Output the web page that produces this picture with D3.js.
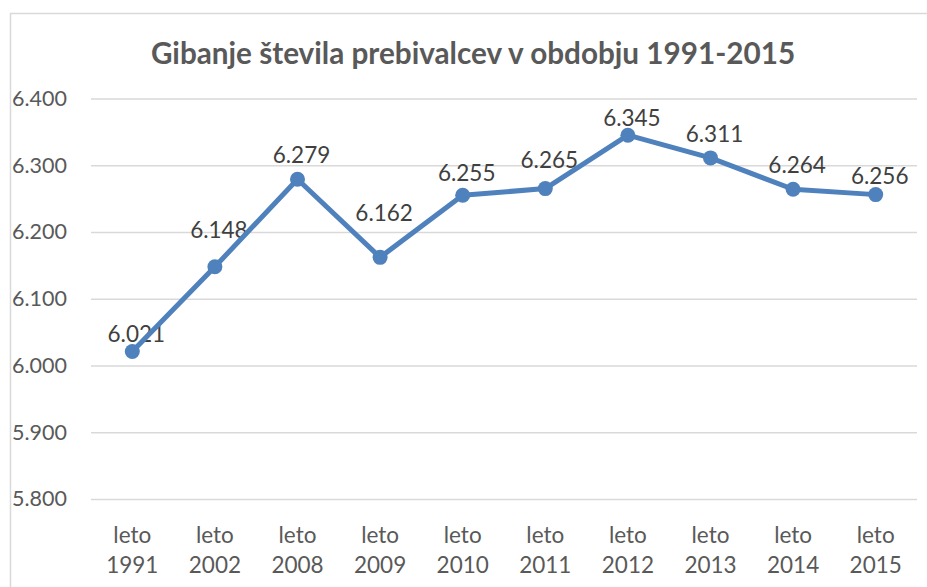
<!DOCTYPE html>
<html>
<head>
<meta charset="utf-8">
<script src="https://cdn.jsdelivr.net/npm/d3@7"></script>
<style>
  body { margin: 0; background: #fff; }
  svg text { font-family: Lato, "Open Sans", sans-serif; }
</style>
</head>
<body>
<div id="chart"></div>
<script>
// Population per year (shown as 6.xxx)
const categories = ['1991', '2002', '2008', '2009', '2010', '2011', '2012', '2013', '2014', '2015'];
const values = [6.021, 6.148, 6.279, 6.162, 6.255, 6.265, 6.345, 6.311, 6.264, 6.256];
const yTicks = [5.8, 5.9, 6.0, 6.1, 6.2, 6.3, 6.4];
const title = 'Gibanje števila prebivalcev v obdobju 1991-2015';
// label baseline offset above each point (px), as placed in the original
const labelOffsets = [-9, -29, -16, -36, -14, -21, -9, -16, -16, -11];

const width = 927, height = 587;
const margin = { top: 98.5, right: 10, bottom: 88, left: 91 };

const svg = d3.select('#chart').append('svg')
  .attr('width', width)
  .attr('height', height);

// chart frame
svg.append('rect')
  .attr('x', 10.5).attr('y', 13.5)
  .attr('width', 940).attr('height', 600)
  .attr('fill', 'none')
  .attr('stroke', '#d9d9d9')
  .attr('stroke-width', 1.5);

const x = d3.scaleBand()
  .domain(categories)
  .range([margin.left, width - margin.right]);

const y = d3.scaleLinear()
  .domain([5.8, 6.4])
  .range([height - margin.bottom, margin.top]);

// title
svg.append('text')
  .attr('x', 473)
  .attr('y', 64)
  .attr('text-anchor', 'middle')
  .attr('font-size', 29.7)
  .attr('font-weight', 'bold')
  .attr('fill', '#595959')
  .text(title);

// gridlines
svg.append('g')
  .attr('class', 'grid')
  .attr('transform', `translate(${margin.left},0)`)
  .call(d3.axisLeft(y).tickValues(yTicks)
    .tickSize(-(width - margin.left - margin.right))
    .tickFormat(''))
  .call(g => g.select('.domain').remove())
  .call(g => g.selectAll('line').attr('stroke', '#d9d9d9').attr('stroke-width', 1.5));

// y axis labels
svg.append('g')
  .attr('transform', `translate(${margin.left},0)`)
  .call(d3.axisLeft(y).tickValues(yTicks).tickSize(0).tickPadding(24)
    .tickFormat(d => d3.format('.3f')(d)))
  .call(g => g.select('.domain').remove())
  .call(g => g.selectAll('text')
    .attr('font-size', 21.5)
    .attr('fill', '#595959')
    .attr('font-family', 'Lato, sans-serif'));

// x axis labels, two lines
const xAxis = svg.append('g')
  .attr('transform', `translate(0,${height - margin.bottom})`)
  .call(d3.axisBottom(x).tickSize(0).tickFormat(''));
xAxis.select('.domain').remove();
xAxis.selectAll('.tick').each(function(d) {
  const t = d3.select(this).append('text')
    .attr('text-anchor', 'middle')
    .attr('font-size', 22.5)
    .attr('fill', '#595959')
    .attr('font-family', 'Lato, sans-serif');
  t.append('tspan').attr('x', 0).attr('y', 44).text('leto');
  t.append('tspan').attr('x', 0).attr('y', 74).text(d);
});

const data = categories.map((c, i) => ({ cat: c, value: values[i], off: labelOffsets[i] }));
const cx = d => x(d.cat) + x.bandwidth() / 2;

// data labels (behind the line)
svg.selectAll('.label')
  .data(data)
  .enter()
  .append('text')
  .attr('class', 'label')
  .attr('x', d => cx(d) + 4)
  .attr('y', d => y(d.value) + d.off)
  .attr('text-anchor', 'middle')
  .attr('font-size', 22.5)
  .attr('fill', '#404040')
  .text(d => d3.format('.3f')(d.value));

const line = d3.line()
  .x(cx)
  .y(d => y(d.value));

svg.append('path')
  .datum(data)
  .attr('fill', 'none')
  .attr('stroke', '#4f81bd')
  .attr('stroke-width', 5)
  .attr('stroke-linejoin', 'round')
  .attr('d', line);

svg.selectAll('.point')
  .data(data)
  .enter()
  .append('circle')
  .attr('class', 'point')
  .attr('cx', cx)
  .attr('cy', d => y(d.value))
  .attr('r', 7.5)
  .attr('fill', '#4f81bd');
</script>
</body>
</html>
